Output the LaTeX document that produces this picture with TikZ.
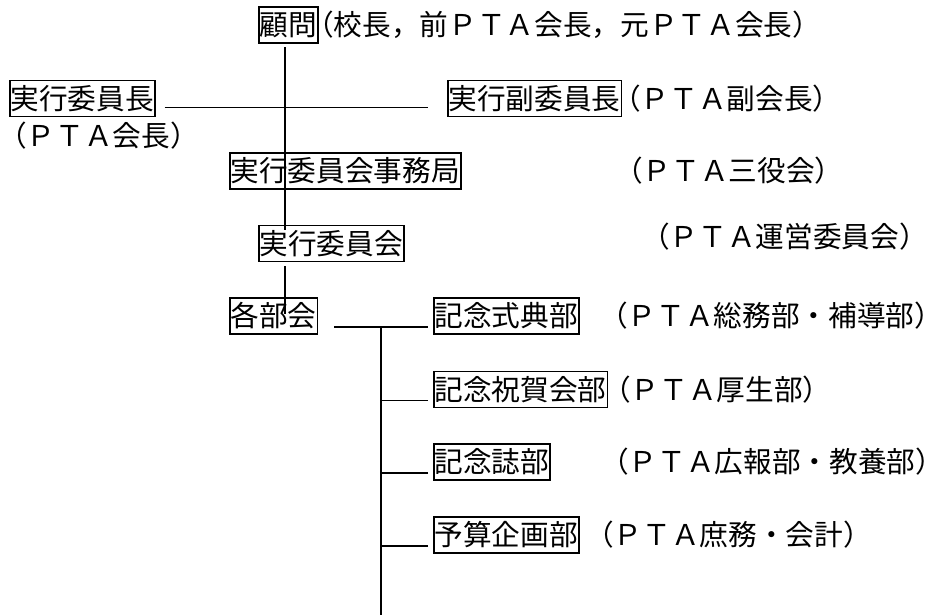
\documentclass[tikz,border=0pt]{standalone}
\usepackage{fontspec}
\setmainfont{Noto Sans CJK JP}
\usetikzlibrary{positioning,calc}

\tikzset{
  unitbox/.style={draw, line width=1.2pt, anchor=west, inner xsep=0.6pt, inner ysep=0pt,
    minimum height=27pt, font=\fontsize{21.5}{21.5}\selectfont},
  note/.style={anchor=west, inner sep=0pt, font=\fontsize{21.5}{21.5}\selectfont},
  link/.style={line width=1.2pt}
}

\begin{document}
\begin{tikzpicture}[x=0.75pt, y=-0.75pt]
\useasboundingbox (0,0) rectangle (945,615);

% Upper rows
\node[unitbox] (komon) at (258,25) {顧問};
\node[note] (komonnote) at (305,25) {（校長，前ＰＴＡ会長，元ＰＴＡ会長）};

\node[unitbox] (chair) at (9,98.5) {実行委員長};
\node[note] (chairnote) at (-2,136) {（ＰＴＡ会長）};
\node[unitbox] (vice) at (447,98.5) {実行副委員長};
\node[note] (vicenote) at (612,98.5) {（ＰＴＡ副会長）};

\node[unitbox] (jimu) at (229,171) {実行委員会事務局};
\node[note] (jimunote) at (614,171) {（ＰＴＡ三役会）};

\node[unitbox] (iinkai) at (258,243.5) {実行委員会};
\node[note] (iinkainote) at (641,237) {（ＰＴＡ運営委員会）};

\node[unitbox] (bukai) at (229,316) {各部会};

% Sections
\node[unitbox] (shikiten) at (433,316) {記念式典部};
\node[note] (shikitennote) at (599,316) {（ＰＴＡ総務部・補導部）};
\node[unitbox] (shukuga) at (433,389.5) {記念祝賀会部};
\node[note] (shukuganote) at (602,389.5) {（ＰＴＡ厚生部）};
\node[unitbox] (shi) at (433,462) {記念誌部};
\node[note] (shinote) at (600,462) {（ＰＴＡ広報部・教養部）};
\node[unitbox] (yosan) at (433,535) {予算企画部};
\node[note] (yosannote) at (585,535) {（ＰＴＡ庶務・会計）};

% Trunk
\coordinate (trunk) at (285,47);
\draw[link] (trunk) -- ($(trunk |- iinkai.north)+(0,5)$);
\draw[link] ($(trunk |- iinkai.south)+(0,4)$) -- ($(trunk |- bukai.north)+(0,17)$);
\draw[link] ($(chair.south east)+(9,-10)$) -- ($(vice.south west)+(-19,-10)$);

% Branches
\draw[link] ($(bukai.south east)+(16,-8)$) -- ($(shikiten.south west)+(-5,-8)$);
\coordinate (branch) at (381,326);
\coordinate (branchend) at (381,615);
\draw[link] (branch) -- (branchend);
\foreach \n in {shukuga,shi,yosan}
  \draw[link] ($(\n.south west)+(-5,-8)$) coordinate (tip) -- (tip -| branch);
\end{tikzpicture}
\end{document}
